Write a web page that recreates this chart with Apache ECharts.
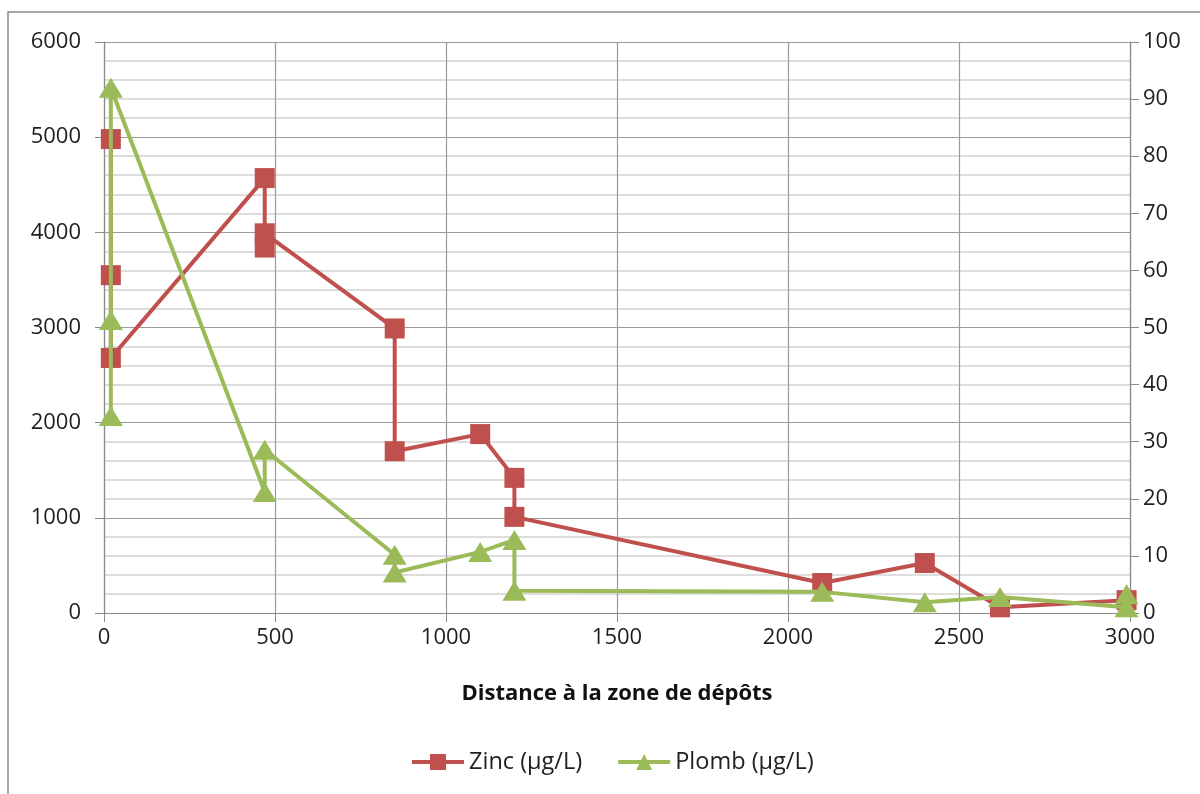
<!DOCTYPE html>
<html>
<head>
<meta charset="utf-8">
<script src="https://cdn.jsdelivr.net/npm/echarts@6/dist/echarts.min.js"></script>
<style>
  html, body { margin: 0; padding: 0; background: #fff; }
  #chart { width: 1200px; height: 794px; }
</style>
</head>
<body>
<div id="chart"></div>
<script>
// Distances (m) and concentrations, in sampling order
const zincDistance = [20, 20, 20, 470, 470, 470, 850, 850, 1100, 1200, 1200, 2100, 2400, 2620, 2990];
const zincValues   = [4980, 3550, 2680, 4570, 3840, 3990, 2990, 1700, 1880, 1420, 1010, 315, 525, 60, 135];

const plombDistance = [20, 20, 20, 470, 470, 850, 850, 1100, 1200, 1200, 2100, 2400, 2620, 2990, 2990];
const plombValues   = [34.5, 51.3, 92, 21.2, 28.6, 10.2, 7.1, 10.7, 12.8, 3.9, 3.7, 1.9, 2.8, 1.0, 3.3];

const xTicks = [0, 500, 1000, 1500, 2000, 2500, 3000];
const seriesNames = ['Zinc (µg/L)', 'Plomb (µg/L)'];
const axisTitle = 'Distance à la zone de dépôts';

const zincColor = '#C0504D';
const plombColor = '#9BBB59';
const FONT = '"Open Sans", sans-serif';
const plain = v => String(v);

const pairs = (xs, ys) => xs.map((x, i) => [x, ys[i]]);

const chart = echarts.init(document.getElementById('chart'));
chart.setOption({
  animation: false,
  backgroundColor: '#ffffff',
  textStyle: { fontFamily: FONT },
  graphic: [{
    type: 'rect',
    shape: { x: 8, y: 12, width: 1220, height: 820 },
    style: { fill: 'none', stroke: '#8a8a8a', lineWidth: 1.5 },
    silent: true
  }],
  grid: { left: 104, right: 70, top: 42, bottom: 181 },
  legend: {
    bottom: 15,
    left: 405,
    itemWidth: 52,
    itemHeight: 20,
    itemGap: 34,
    lineStyle: { width: 4 },
    textStyle: { fontFamily: FONT, fontSize: 23.5, color: '#222' },
    data: seriesNames
  },
  xAxis: {
    type: 'value',
    min: xTicks[0],
    max: xTicks[xTicks.length - 1],
    interval: 500,
    name: axisTitle,
    nameLocation: 'middle',
    nameGap: 70,
    nameTextStyle: { fontFamily: FONT, fontSize: 22, fontWeight: 'bold', color: '#111' },
    axisLine: { show: true, onZero: false, lineStyle: { color: '#8a8a8a', width: 1.2 } },
    axisTick: { show: true, length: 9, lineStyle: { color: '#8a8a8a' } },
    axisLabel: { fontSize: 22, color: '#1e1e1e', margin: 14, formatter: plain },
    splitLine: { show: true, lineStyle: { color: '#9a9a9a', width: 1.2 } }
  },
  yAxis: [{
    type: 'value',
    min: 0, max: 6000, interval: 1000,
    position: 'left',
    axisLine: { show: true, lineStyle: { color: '#8a8a8a', width: 1.2 } },
    axisTick: { show: true, length: 9, lineStyle: { color: '#8a8a8a' } },
    axisLabel: { fontSize: 22, color: '#1e1e1e', margin: 23, formatter: plain },
    splitLine: { show: true, lineStyle: { color: '#9a9a9a', width: 1.2 } },
    minorTick: { show: false, splitNumber: 5 },
    minorSplitLine: { show: true, lineStyle: { color: '#d2d2d2', width: 1.5 } }
  }, {
    type: 'value',
    min: 0, max: 100, interval: 10,
    position: 'right',
    axisLine: { show: true, lineStyle: { color: '#8a8a8a', width: 1.2 } },
    axisTick: { show: true, length: 9, lineStyle: { color: '#8a8a8a' } },
    axisLabel: { fontSize: 22, color: '#1e1e1e', margin: 13, formatter: plain },
    splitLine: { show: false }
  }],
  series: [{
    name: seriesNames[0],
    type: 'line',
    yAxisIndex: 0,
    data: pairs(zincDistance, zincValues),
    symbol: 'rect',
    symbolSize: 20,
    showAllSymbol: true,
    lineStyle: { color: zincColor, width: 4 },
    itemStyle: { color: zincColor },
    z: 3
  }, {
    name: seriesNames[1],
    type: 'line',
    yAxisIndex: 1,
    data: pairs(plombDistance, plombValues),
    symbol: 'triangle',
    symbolSize: [24, 20],
    showAllSymbol: true,
    lineStyle: { color: plombColor, width: 4 },
    itemStyle: { color: plombColor },
    z: 4
  }]
});
</script>
</body>
</html>
